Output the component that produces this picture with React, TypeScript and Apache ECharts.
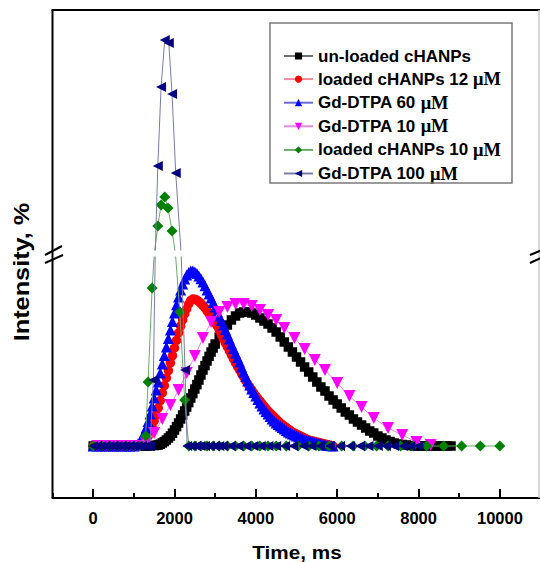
import React, { useEffect, useRef } from 'react';
import * as echarts from 'echarts';

// time grid of the black curve (ms)
const timeMs = [0, 100, 200, 300, 400, 500, 600, 700, 800, 900, 1000, 1100, 1200, 1300, 1400,
  1500, 1550, 1600, 1650, 1700, 1750, 1800, 1850, 1900, 1950, 2000, 2050, 2100, 2150, 2200, 2250, 2300, 2350, 2400, 2450,
  2500, 2550, 2600, 2650, 2700, 2750, 2800, 2850, 2900, 2950,
  3000, 3100, 3200, 3300, 3400, 3500, 3600, 3700, 3800, 3900,
  4000, 4100, 4200, 4300, 4400, 4500, 4600, 4700, 4800, 4900, 5000, 5100, 5200, 5300, 5400, 5500, 5600, 5700, 5800, 5900,
  6000, 6100, 6200, 6300, 6400, 6500, 6600, 6700, 6800, 6900, 7000, 7100, 7200, 7300, 7400, 7500, 7600, 7700, 7800, 7900,
  8000, 8100, 8200, 8300, 8400, 8500, 8600, 8700, 8800];

// finer time grid of the red and blue curves (ms)
const timeFine = [0, 100, 200, 300, 400, 500, 600, 700, 800, 900, 1000,
  1050, 1100, 1150, 1200, 1250, 1300, 1350, 1400, 1450, 1500, 1550, 1600, 1650, 1700, 1750, 1800, 1850, 1900, 1950, 2000,
  2050, 2100, 2150, 2200, 2250, 2300, 2350, 2400, 2450, 2500, 2550, 2600, 2650, 2700, 2750, 2800, 2850, 2900, 2950, 3000,
  3050, 3100, 3150, 3200, 3250, 3300, 3350, 3400, 3450, 3500, 3550, 3600, 3650, 3700, 3750, 3800, 3850, 3900, 3950, 4000,
  4050, 4100, 4150, 4200, 4250, 4300, 4350, 4400, 4450, 4500, 4550, 4600, 4650, 4700, 4750, 4800, 4850, 4900, 4950, 5000,
  5050, 5100, 5150, 5200, 5250, 5300, 5350, 5400, 5450, 5500, 5550, 5600, 5650, 5700, 5750, 5800, 5850, 5900];

// un-loaded cHANPs (black squares)
const unloaded = [0, 0, 0, 0, 0, 0, 0, 0, 0, 0, 0, 0, 0, 0, 0,
  0.25, 0.35, 0.5, 0.9, 1.5, 2.2, 3, 4, 5, 6.4, 8, 9.7, 11.5, 13.5, 15.5, 17.5, 19.5, 21.7, 24, 26.2,
  28.5, 30.7, 33, 35.5, 38, 40.2, 42.5, 44.8, 47, 49,
  51, 54.5, 57.5, 60.5, 63, 65, 66.5, 67, 67, 66.5,
  65.5, 64, 62.5, 61, 59, 57, 54.5, 52, 49.5, 47, 44.5, 42, 39.5, 37, 34.5, 32, 29.5, 27.5, 25, 23,
  21, 19, 17, 15.5, 13.5, 12, 10.5, 9, 7.5, 6.5, 5, 4, 3, 2.25, 1.5, 1, 0.75, 0.5, 0.25, 0,
  0, 0, 0, 0, 0, 0, 0, 0, 0];

// loaded cHANPs 12 uM (red circles)
const loaded12 = [0, 0, 0, 0, 0, 0, 0, 0, 0, 0, 0,
  0, 0, 0.4, 1, 1.8, 3, 4.8, 7, 9.6, 12.5,
  15.6, 19, 22.7, 26.5, 30.2, 34, 37.7, 41.5, 45.2, 49,
  52.8, 56.5, 59.9, 63, 66, 68.5, 71, 72.8, 73.5, 73.4,
  72.9, 72.2, 71.3, 70.2, 69, 67.6, 66.2, 64.7, 63.2, 61.6,
  60, 58, 55.7, 53.5, 51.5, 49.5, 47.5, 45.5, 43.5, 41.5,
  39.7, 38, 36.2, 34.5, 32.7, 31, 29.5, 28, 26.5, 25,
  23.7, 22.5, 21.2, 20, 18.7, 17.5, 16.5, 15.5, 14.5, 13.5,
  12.5, 11.5, 10.7, 10, 9.2, 8.5, 7.7, 7, 6.5, 6,
  5.5, 5, 4.5, 4, 3.5, 3, 2.7, 2.5, 2.2, 2,
  1.7, 1.5, 1.2, 1, 0.7, 0.5, 0.2, 0];

// Gd-DTPA 60 uM (blue triangles)
const gd60 = [0, 0, 0, 0, 0, 0, 0, 0, 0, 0, 0,
  0.3, 1, 2.3, 4, 6.3, 9, 12.3, 16, 20, 24,
  28, 32, 36.5, 41, 45.3, 49.5, 53.8, 58, 62.3, 66.5,
  70.6, 74.5, 78, 81, 83.5, 85.5, 86.8, 87.5, 87.5, 87,
  86.2, 85, 83.6, 82, 80.1, 78, 76, 74, 71.8, 69.5,
  67.3, 65, 62.8, 60.5, 58.3, 56, 53.5, 51, 48.8, 46.5,
  44.2, 42, 39.5, 37, 34.7, 32.5, 30.5, 28.5, 26.7, 25,
  23.2, 21.5, 20, 18.5, 17.2, 16, 14.7, 13.5, 12.5, 11.5,
  10.7, 10, 9.2, 8.5, 7.7, 7, 6.5, 6, 5.5, 5,
  4.5, 4, 3.5, 3, 2.7, 2.5, 2.2, 2, 1.7, 1.5,
  1.2, 1, 0.7, 0.5, 0.4, 0.3, 0.1, 0];

// Gd-DTPA 10 uM (magenta down triangles)
const gd10Time = [100, 300, 500, 700, 900, 1100, 1300, 1500, 1700, 1900, 2100, 2300, 2500, 2700, 2900, 3100, 3300, 3500,
  3700, 3900, 4100, 4300, 4500, 4700, 4950, 5200, 5450, 5700, 6000, 6300, 6600, 6900, 7250, 7600, 7950, 8300];
const gd10 = [0, 0, 0, 0, 0, 0, 1.5, 6.5, 13.5, 20.5, 28, 36.5, 45, 54, 62, 67, 69.5, 71,
  71, 70, 68, 65.5, 63, 59, 54, 48.5, 43, 38, 31.5, 25, 19.5, 14, 9, 5.5, 2, 0.5];

// loaded cHANPs 10 uM (green diamonds)
const loaded10Time = [0, 200, 400, 600, 800, 1000, 1150, 1290, 1350, 1450, 1590, 1670, 1760, 1840, 1940, 2130, 2250, 2350,
  2500, 2650, 2800, 2950, 3100, 3300, 3500, 3700, 3900, 4100, 4300, 4500, 4750, 5040, 5300, 5550, 5800, 6110,
  6390, 6680, 6970, 7250, 7560, 7870, 8200, 8620, 9060, 9520, 10000];
const loaded10 = [0, 0, 0, 0, 0, 0, 0, 5, 32, 79, 124, 145, 153, 142, 119, 67, 23, 0,
  0, 0, 0, 0, 0, 0, 0, 0, 0, 0, 0, 0, 0, 0, 0, 0, 0, 0,
  0, 0, 0, 0, 0, 0, 0, 0, 0, 0, 0];

// Gd-DTPA 100 uM (navy left triangles)
const gd100Time = [0, 100, 200, 300, 400, 500, 600, 700, 800, 900, 1000, 1100, 1200, 1300, 1400, 1480, 1590, 1670, 1760,
  1860, 1940, 2030, 2260, 2310, 2420, 2530, 2640, 2750, 2870, 2990, 3100, 3200, 3380, 3570, 3760, 3940, 4120, 4310,
  4500, 4720, 4920, 5170, 5370, 5580, 5820, 6070, 6320, 6560, 6770, 7000, 7200, 7400, 7620, 7800, 8000];
const gd100 = [0, 0, 0, 0, 0, 0, 0, 0, 0, 0, 0, 0, 0, 0, 0, 33, 184, 263, 310,
  307, 256, 177, 38, 0, 0, 0, 0, 0, 0, 0, 0, 0, 0, 0, 0, 0, 0, 0,
  0, 0, 0, 0, 0, 0, 0, 0, 0, 0, 0, 0, 0, 0, 0, 0, 0];

const xTicks = [0, 2000, 4000, 6000, 8000, 10000];

const names = ['un-loaded cHANPs', 'loaded cHANPs 12 μM', 'Gd-DTPA 60 μM', 'Gd-DTPA 10 μM', 'loaded cHANPs 10 μM', 'Gd-DTPA 100 μM'];

const FONT = 'Arial, "Liberation Sans", Helvetica, sans-serif';
const SERIF = '"Times New Roman", "Liberation Serif", serif';

const zip = (t: number[], v: number[]) => v.map((y, i) => [t[i], y]);

export default function App() {
  const ref = useRef<HTMLDivElement>(null);
  useEffect(() => {
    const chart = echarts.init(ref.current!, null, { renderer: 'svg' });
    const styles = [
      { symbol: 'rect', size: 9.5, color: '#000000', line: '#707070' },
      { symbol: 'circle', size: 9.5, color: '#ff0000', line: '#f08a9a' },
      { symbol: 'triangle', size: 11, color: '#0000ff', line: '#6a6ad8' },
      { symbol: 'path://M0,0L10,0L5,9Z', size: 12, color: '#ff00ff', line: '#e08ae0' },
      { symbol: 'diamond', size: 11, color: '#008000', line: '#6aaa6a' },
      { symbol: 'path://M0,5L10,0L10,10Z', size: 10, color: '#000080', line: '#7a7aaa' },
    ];
    const datas = [
      zip(timeMs, unloaded),
      zip(timeFine, loaded12),
      zip(timeFine, gd60),
      zip(gd10Time, gd10),
      zip(loaded10Time, loaded10),
      zip(gd100Time, gd100),
    ];
    const mk = (i: number, axis: number) => ({
      type: 'line',
      name: names[i],
      xAxisIndex: axis,
      yAxisIndex: axis,
      data: datas[i],
      symbol: styles[i].symbol,
      symbolSize: styles[i].size,
      showSymbol: true,
      clip: true,
      silent: true,
      itemStyle: { color: styles[i].color },
      lineStyle: { color: styles[i].line, width: 1 },
      emphasis: { disabled: true },
      z: 2 + i,
    });
    const series: any[] = [0, 1, 2, 3, 4, 5].map((i) => mk(i, 0));
    series.push(mk(4, 1));
    series.push(mk(5, 1));

    const line = (x1: number, y1: number, x2: number, y2: number, stroke = '#000', w = 2) => ({
      type: 'line',
      shape: { x1, y1, x2, y2 },
      style: { stroke, lineWidth: w },
      silent: true,
      z: 100,
    });

    chart.setOption({
      animation: false,
      backgroundColor: '#ffffff',
      grid: [
        { left: 52.5, top: 257, width: 488, height: 241, outerBoundsMode: 'none' },
        { left: 52.5, top: 10, width: 488, height: 240, outerBoundsMode: 'none' },
        { left: 93.2, top: 257, width: 406.7, height: 241, outerBoundsMode: 'none' },
      ],
      xAxis: [
        {
          gridIndex: 0, type: 'value', min: -1000, max: 11000, interval: 2000,
          axisLine: { show: true, onZero: false, lineStyle: { color: '#000', width: 2 } },
          axisTick: { show: true, inside: true, length: 5, lineStyle: { color: '#000', width: 2 } },
          axisLabel: { show: false },
          splitLine: { show: false },
        },
        { gridIndex: 1, type: 'value', min: -1000, max: 11000, show: false, axisLine: { onZero: false } },
        {
          gridIndex: 2, type: 'value', min: xTicks[0], max: xTicks[xTicks.length - 1], interval: 2000,
          axisLine: { show: false, onZero: false },
          axisTick: { show: true, inside: true, length: 9, lineStyle: { color: '#000', width: 2 } },
          axisLabel: {
            show: true, margin: 11, color: '#000', fontFamily: FONT, fontWeight: 'bold', fontSize: 16.5,
            formatter: (v: number) => String(v),
          },
          splitLine: { show: false },
        },
      ],
      yAxis: [
        { gridIndex: 0, type: 'value', min: -26, max: 94.5, show: false },
        { gridIndex: 1, type: 'value', min: 100, max: 340, show: false },
        { gridIndex: 2, type: 'value', min: 0, max: 1, show: false },
      ],
      legend: {
        orient: 'vertical',
        left: 283,
        top: 47,
        padding: 0,
        itemWidth: 29,
        itemHeight: 9,
        itemGap: 4.6,
        selectedMode: false,
        data: names,
        formatter: (n: string) => {
          const k = n.indexOf('μM');
          return k < 0 ? '{t|' + n + '}' : '{t|' + n.slice(0, k) + '}{mu|μM}';
        },
        textStyle: {
          color: '#000', fontFamily: FONT, fontWeight: 'bold', fontSize: 17, lineHeight: 18,
          rich: {
            t: { fontFamily: FONT, fontWeight: 'bold', fontSize: 17, lineHeight: 18, color: '#000' },
            mu: { fontFamily: SERIF, fontWeight: 'bold', fontSize: 18.5, lineHeight: 18, color: '#000' },
          },
        },
      },
      series,
      graphic: [
        line(52.5, 10, 52.5, 498),
        line(51.5, 10, 540, 10),
        line(539, 10, 539, 498, '#c8c8c8', 1.5),
        line(45, 255, 62, 246),
        line(45, 263, 63, 255),
        line(530, 255, 541, 250.5),
        line(530, 263, 541, 258),
        {
          type: 'rect', shape: { x: 270, y: 23, width: 242, height: 160 },
          style: { fill: 'none', stroke: '#7a7a7a', lineWidth: 1.5 }, silent: true, z: 90,
        },
        {
          type: 'text', x: 297, y: 552, scaleX: 1.09, silent: true, z: 100,
          style: { text: 'Time, ms', fill: '#000', fontFamily: FONT, fontWeight: 'bold', fontSize: 19, align: 'center', verticalAlign: 'middle', textAlign: 'center', textVerticalAlign: 'middle' },
        },
        {
          type: 'text', x: 22, y: 272, rotation: Math.PI / 2, scaleX: 1.15, silent: true, z: 100,
          style: { text: 'Intensity, %', fill: '#000', fontFamily: FONT, fontWeight: 'bold', fontSize: 22, align: 'center', verticalAlign: 'middle', textAlign: 'center', textVerticalAlign: 'middle' },
        },
      ],
    });
    return () => chart.dispose();
  }, []);
  return (
    <div
      ref={ref}
      style={{ position: 'fixed', left: 0, top: 0, width: 540, height: 562, background: '#fff' }}
    />
  );
}
